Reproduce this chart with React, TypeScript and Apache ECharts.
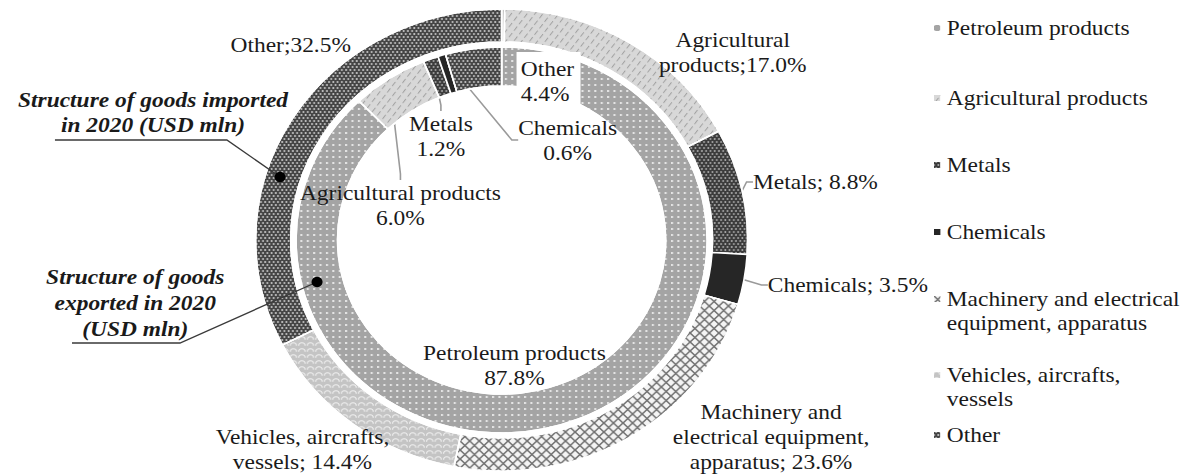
import React, { useEffect, useRef } from "react";
import * as echarts from "echarts";

// ---------- data ----------
const categories = [
  "Petroleum products",
  "Agricultural products",
  "Metals",
  "Chemicals",
  "Machinery and electrical equipment, apparatus",
  "Vehicles, aircrafts, vessels",
  "Other",
];
// imports 2020, % (outer ring)
const importValues = [0.2, 17.0, 8.8, 3.5, 23.6, 14.4, 32.5];
// exports 2020, % (inner ring)
const exportCategories = [
  "Petroleum products",
  "Agricultural products",
  "Metals",
  "Chemicals",
  "Other",
];
const exportValues = [87.8, 6.0, 1.2, 0.6, 4.4];

const importLabelPrefix = [
  "",
  "Agricultural\nproducts;",
  "Metals; ",
  "Chemicals; ",
  "Machinery and\nelectrical equipment,\napparatus; ",
  "Vehicles, aircrafts,\nvessels; ",
  "Other;",
];
const exportLabelPrefix = [
  "Petroleum products\n",
  "Agricultural products\n",
  "Metals\n",
  "Chemicals\n",
  "Other\n",
];
const legendLabels = [
  "Petroleum products",
  "Agricultural products",
  "Metals",
  "Chemicals",
  "Machinery and electrical\nequipment, apparatus",
  "Vehicles, aircrafts,\nvessels",
  "Other",
];
const seriesTitles = [
  "Structure of goods imported\nin 2020 (USD mln)",
  "Structure of goods\nexported in 2020\n(USD mln)",
];

// ---------- layout / style ----------
const SX = 1.065; // the picture is slightly stretched horizontally
const W = 1191 / SX;
const H = 475;
const FONT = '"Liberation Serif", "Times New Roman", serif';
const CENTER = [471, 240];

// label positions [x, y, align, showLine]
const importLabelPos: [number, number, string, boolean][] = [
  [0, 0, "center", false],
  [688, 52, "center", false],
  [707, 182, "left", true],
  [721, 285, "left", true],
  [724, 437, "center", false],
  [284, 449, "center", false],
  [273, 45, "center", false],
];
const exportLabelPos: [number, number, string, boolean][] = [
  [483, 365, "center", false],
  [376, 205, "center", true],
  [414, 136, "center", true],
  [533, 140, "center", true],
  [485, 81, "left", true],
];
const legendTops = [16, 86, 153, 220, 287, 363, 423];
const SQUARE_ICON = "rect";
const TOP_SQUARE_ICON = "path://M0,0L8,0L8,8L0,8Z M7.95,31.95L8,32L7.95,32Z";

const catStyle: Record<string, any> = {
  "Petroleum products": {
    color: "#a4a4a4",
    decal: {
      symbol: "rect",
      symbolSize: 1,
      color: "rgba(255,255,255,0.7)",
      dashArrayX: [2, 4],
      dashArrayY: [2, 4],
    },
  },
  "Agricultural products": {
    color: "#d8d8d8",
    decal: {
      symbol: "rect",
      symbolSize: 1,
      color: "#a2a2a2",
      dashArrayX: [1, 5],
      dashArrayY: [5, 3],
      rotation: Math.PI / 5,
    },
  },
  Metals: {
    color: "#3c3c3c",
    decal: {
      symbol: "circle",
      symbolSize: 0.9,
      color: "#a8a8a8",
      dashArrayX: [
        [2, 2],
        [0, 2, 2, 0],
      ],
      dashArrayY: [2, 1],
    },
  },
  Chemicals: { color: "#262626" },
  "Machinery and electrical equipment, apparatus": {
    color: "#f4f4f4",
    decal: {
      symbol:
        "path://M0,0 L1.2,0 L10,8.8 L10,10 L8.8,10 L0,1.2 Z M10,0 L10,1.2 L1.2,10 L0,10 L0,8.8 L8.8,0 Z",
      symbolSize: 1,
      color: "#727272",
      dashArrayX: [9, 0],
      dashArrayY: [9, 0],
    },
  },
  "Vehicles, aircrafts, vessels": {
    color: "#c4c4c4",
    decal: {
      symbol: "path://M0,10 A5,5 0 0 1 10,10 L8.5,10 A3.5,3.5 0 0 0 1.5,10 Z",
      symbolSize: 1,
      color: "#efefef",
      dashArrayX: [7, 1],
      dashArrayY: [4, 2],
    },
  },
  Other: {
    color: "#454545",
    decal: {
      symbol: "rect",
      symbolSize: 0.8,
      color: "rgba(255,255,255,0.85)",
      dashArrayX: [
        [2, 2],
        [0, 2, 2, 0],
      ],
      dashArrayY: [2, 1],
    },
  },
};

const labelText = { color: "#1a1a1a", fontFamily: FONT, fontSize: 22, lineHeight: 25 };
const lineStyle = { color: "#9a9a9a", width: 1.5 };

function buildOption() {
  const outerData = categories.map((name, i) => ({
    name,
    value: importValues[i],
    itemStyle: {
      color: catStyle[name].color,
      decal: catStyle[name].decal,
      borderColor: "#fff",
      borderWidth: 1.5,
    },
    label: {
      show: i !== 0,
      formatter: importLabelPrefix[i] + importValues[i].toFixed(1) + "%",
    },
    labelLine: { show: importLabelPos[i][3] },
  }));
  const innerData = exportCategories.map((name, i) => ({
    name,
    value: exportValues[i],
    itemStyle: {
      color: catStyle[name].color,
      decal: catStyle[name].decal,
      borderColor: "#fff",
      borderWidth: 1.5,
    },
    label: {
      show: true,
      formatter: exportLabelPrefix[i] + exportValues[i].toFixed(1) + "%",
      backgroundColor: name === "Other" ? "#fff" : "transparent",
      padding: name === "Other" ? [4, 6, 4, 4] : 0,
    },
    labelLine: { show: exportLabelPos[i][3] },
  }));

  const legends = categories.map((name, i) => {
    const twoLines = legendLabels[i].indexOf("\n") >= 0;
    return {
      show: true,
      data: [{ name, icon: twoLines ? TOP_SQUARE_ICON : SQUARE_ICON }],
      orient: "vertical",
      left: 875,
      top: legendTops[i],
      padding: 0,
      itemWidth: 8,
      itemHeight: twoLines ? 32 : 8,
      selectedMode: false,
      formatter: () => legendLabels[i],
      textStyle: { ...labelText, lineHeight: 24, color: "#1a1a1a" },
    };
  });

  const titleStyle = {
    fontFamily: FONT,
    fontSize: 22,
    fontStyle: "italic",
    fontWeight: "bold",
    fill: "#1a1a1a",
    align: "center",
    verticalAlign: "middle",
  };

  return {
    animation: false,
    backgroundColor: "#ffffff",
    legend: legends,
    series: [
      {
        type: "pie",
        name: "Imports",
        radius: [198, 231],
        center: CENTER,
        startAngle: 90,
        clockwise: true,
        avoidLabelOverlap: false,
        label: { position: "outside", ...labelText },
        labelLine: { length: 6, length2: 6, lineStyle },
        labelLayout: (p: any) => {
          const pos = importLabelPos[p.dataIndex];
          return { x: pos[0], y: pos[1], align: pos[2], verticalAlign: "middle" };
        },
        emphasis: { disabled: true },
        data: outerData,
      },
      {
        type: "pie",
        name: "Exports",
        radius: [154, 193],
        center: CENTER,
        startAngle: 90,
        clockwise: true,
        avoidLabelOverlap: false,
        label: { position: "outside", ...labelText },
        labelLine: { length: 6, length2: 6, lineStyle },
        labelLayout: (p: any) => {
          const pos = exportLabelPos[p.dataIndex];
          return { x: pos[0], y: pos[1], align: pos[2], verticalAlign: "middle" };
        },
        emphasis: { disabled: true },
        data: innerData,
      },
    ],
    graphic: [
      {
        type: "text",
        x: 143.7,
        y: 112.5,
        z: 100,
        style: { ...titleStyle, text: seriesTitles[0], lineHeight: 25 },
      },
      {
        type: "polyline",
        z: 100,
        shape: { points: [[51.6, 140], [213, 140], [263, 177]] },
        style: { stroke: "#3a3a3a", lineWidth: 1.3, fill: null },
      },
      { type: "circle", z: 101, shape: { cx: 263, cy: 177, r: 5.2 }, style: { fill: "#000" } },
      {
        type: "text",
        x: 127,
        y: 303,
        z: 100,
        style: { ...titleStyle, text: seriesTitles[1], lineHeight: 26 },
      },
      {
        type: "polyline",
        z: 100,
        shape: { points: [[67.6, 343], [169, 343], [297.7, 282]] },
        style: { stroke: "#3a3a3a", lineWidth: 1.3, fill: null },
      },
      { type: "circle", z: 101, shape: { cx: 297.7, cy: 282, r: 5.2 }, style: { fill: "#000" } },
    ],
  };
}

export default function App() {
  const ref = useRef<HTMLDivElement | null>(null);
  useEffect(() => {
    if (!ref.current) return;
    const chart = echarts.init(ref.current, null, { renderer: "svg" });
    chart.setOption(buildOption() as any);
    return () => chart.dispose();
  }, []);
  return (
    <div
      ref={ref}
      style={{
        position: "fixed",
        left: 0,
        top: 0,
        width: W,
        height: H,
        transform: `scaleX(${SX})`,
        transformOrigin: "0 0",
        background: "#fff",
      }}
    />
  );
}
